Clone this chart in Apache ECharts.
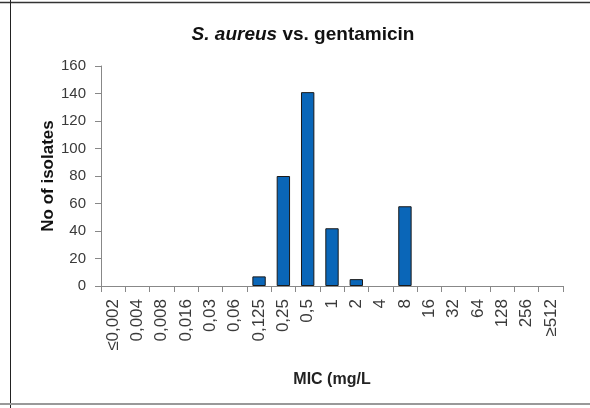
<!DOCTYPE html>
<html>
<head>
<meta charset="utf-8">
<script src="https://cdn.jsdelivr.net/npm/echarts@6/dist/echarts.min.js"></script>
<style>
html, body { margin: 0; padding: 0; background: #fff; }
#main { width: 590px; height: 408px; }
</style>
</head>
<body>
<div id="main"></div>
<script>
var micLabels = ['≤0,002', '0,004', '0,008', '0,016', '0,03', '0,06', '0,125', '0,25', '0,5',
  '1', '2', '4', '8', '16', '32', '64', '128', '256', '≥512']
var isolates = [0, 0, 0, 0, 0, 0, 7, 80, 141, 42, 5, 0, 58, 0, 0, 0, 0, 0, 0]
var yTicks = [0, 160, 20]  // min, max, step

// empty classes get no outline, like in the original sheet
var barData = isolates.map(function (v) {
  return v ? v : { value: v, itemStyle: { borderWidth: 0 } }
})

var chart = echarts.init(document.getElementById('main'))
chart.setOption({
  animation: false,
  title: {
    left: 298,
    textAlign: 'center',
    top: 20,
    text: '{i|S. aureus}{b| vs. gentamicin}',
    textStyle: {
      rich: {
        i: { fontFamily: 'Liberation Sans', fontSize: 19, fontWeight: 'bold', fontStyle: 'italic', color: '#111' },
        b: { fontFamily: 'Liberation Sans', fontSize: 19, fontWeight: 'bold', color: '#111' }
      }
    }
  },
  graphic: [
    { type: 'line', shape: { x1: 0, y1: 2.5, x2: 590, y2: 2.5 }, style: { stroke: '#333', lineWidth: 1.5 } },
    { type: 'line', shape: { x1: 10.5, y1: 0, x2: 10.5, y2: 408 }, style: { stroke: '#222', lineWidth: 1 } },
    { type: 'line', shape: { x1: 0, y1: 404, x2: 590, y2: 404 }, style: { stroke: '#999', lineWidth: 2 } }
  ],
  grid: { left: 101, right: 27, top: 66, bottom: 122 },
  xAxis: {
    type: 'category',
    data: micLabels,
    name: 'MIC (mg/L',
    nameLocation: 'middle',
    nameGap: 86,
    nameMoveOverlap: false,
    nameTextStyle: { fontFamily: 'Liberation Sans', fontSize: 16, fontWeight: 'bold', color: '#222' },
    axisLine: { lineStyle: { color: '#888' } },
    axisTick: { show: true, alignWithLabel: false, length: 6, lineStyle: { color: '#888' } },
    axisLabel: { rotate: 90, interval: 0, margin: 13, fontFamily: 'Liberation Sans', fontSize: 17, color: '#3a3a3a' }
  },
  yAxis: {
    type: 'value',
    min: yTicks[0],
    max: yTicks[1],
    interval: yTicks[2],
    name: 'No of isolates',
    nameLocation: 'middle',
    nameGap: 44,
    nameMoveOverlap: false,
    nameTextStyle: { fontFamily: 'Liberation Sans', fontSize: 17, fontWeight: 'bold', color: '#111' },
    axisLine: { show: true, lineStyle: { color: '#888' } },
    axisTick: { show: true, length: 6, lineStyle: { color: '#888' } },
    splitLine: { show: false },
    axisLabel: { margin: 15, fontFamily: 'Liberation Sans', fontSize: 15, color: '#3a3a3a' }
  },
  series: [{
    type: 'bar',
    data: barData,
    barWidth: '55%',
    itemStyle: { color: '#0a66b8', borderColor: '#1a1a1a', borderWidth: 1 }
  }]
})
</script>
</body>
</html>
